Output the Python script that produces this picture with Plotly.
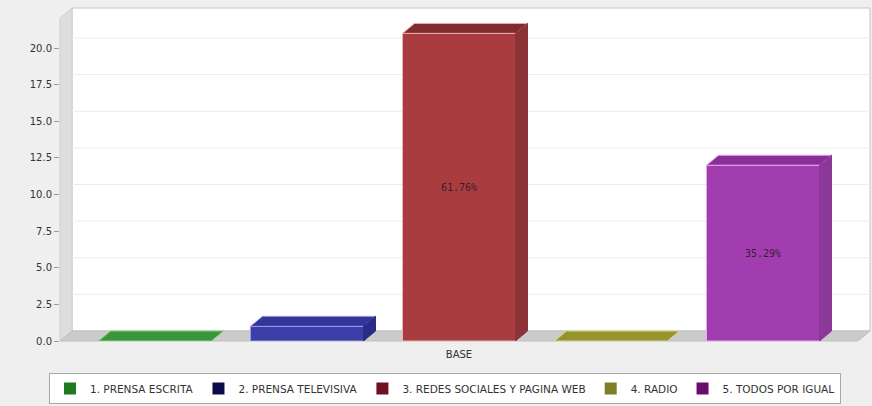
import plotly.graph_objects as go

# ---------------- data ----------------
categories = ["BASE"]
series_names = ["1. PRENSA ESCRITA", "2. PRENSA TELEVISIVA", "3. REDES SOCIALES Y PAGINA WEB",
                "4. RADIO", "5. TODOS POR IGUAL"]
series_values = [0, 1, 21, 0, 12]
bar_labels = ["", "", "61.76%", "", "35.29%"]
y_ticks = [0.0, 2.5, 5.0, 7.5, 10.0, 12.5, 15.0, 17.5, 20.0]

# ---------------- styles ----------------
front_colors = ["#3c9a3c", "#3d3eaa", "#a83c3e", "#9b9b30", "#a23db0"]
top_colors = ["#3a963a", "#34349a", "#7f2c30", "#95952c", "#8a2f98"]
side_colors = ["#2f7e2f", "#2c2c88", "#8c3337", "#80801f", "#8c3899"]
edge_colors = ["#8fd08f", "#9a9ae8", "#f0b0b0", "#d8d890", "#e6a6f0"]
legend_colors = ["#1e7a1e", "#0c0c4a", "#6e1020", "#7e7e26", "#6a0a6a"]

W, H = 872, 406
L_M, R_M, T_M, B_M = 60, 14, 18, 65
PW, PH = W - L_M - R_M, H - T_M - B_M
Y_MAX = 22.05
DX_PX, DY_PX = 12, 10
dx_paper, dy_paper = DX_PX / PW, DY_PX / PH
dx_data = DX_PX / PW * 1.0
dy_data = DY_PX / PH * Y_MAX
pitch = 152 / PW
bar_w = 113 / PW

fig = go.Figure()

shapes = []
# back wall
shapes.append(dict(type="rect", xref="paper", yref="paper", x0=dx_paper, x1=1 + dx_paper,
                   y0=dy_paper, y1=1 + dy_paper, fillcolor="white",
                   line=dict(color="#c4c4c4", width=1), layer="below"))
# left wall
shapes.append(dict(type="path", xref="paper", yref="paper",
                   path=f"M 0,0 L {dx_paper},{dy_paper} L {dx_paper},{1+dy_paper} L 0,1 Z",
                   fillcolor="#dedede", line=dict(color="#cfcfcf", width=1), layer="below"))
# floor
shapes.append(dict(type="path", xref="paper", yref="paper",
                   path=f"M 0,0 L 1,0 L {1+dx_paper},{dy_paper} L {dx_paper},{dy_paper} Z",
                   fillcolor="#cbcbcb", line=dict(color="#c0c0c0", width=1), layer="below"))
# gridlines on the back wall
for v in y_ticks[1:]:
    shapes.append(dict(type="line", xref="paper", yref="y", x0=dx_paper, x1=1 + dx_paper,
                       y0=v + dy_data, y1=v + dy_data,
                       line=dict(color="#ececec", width=1), layer="below"))

for i, (name, v) in enumerate(zip(series_names, series_values)):
    off = (i - 2) * pitch - bar_w / 2
    fig.add_trace(go.Bar(
        x=[0], y=[v], width=bar_w, offset=off, name=name, showlegend=False,
        marker=dict(color=front_colors[i], line=dict(color=edge_colors[i], width=1)),
        text=[bar_labels[i]], textposition="inside", insidetextanchor="middle",
        textfont=dict(family="DejaVu Sans Mono", size=10, color="#3a1e2e"),
        hoverinfo="skip", cliponaxis=False,
    ))
    Lx, Rx = off, off + bar_w
    # top face
    shapes.append(dict(type="path", xref="x", yref="y",
                       path=f"M {Lx},{v} L {Rx},{v} L {Rx+dx_data},{v+dy_data} L {Lx+dx_data},{v+dy_data} Z",
                       fillcolor=top_colors[i], line=dict(color=edge_colors[i], width=1), layer="above"))
    # side face
    if v > 0:
        shapes.append(dict(type="path", xref="x", yref="y",
                           path=f"M {Rx},0 L {Rx+dx_data},{dy_data} L {Rx+dx_data},{v+dy_data} L {Rx},{v} Z",
                           fillcolor=side_colors[i], line=dict(color=side_colors[i], width=1), layer="above"))
    # legend entry
    fig.add_trace(go.Scatter(x=[None], y=[None], mode="markers", name=name,
                             marker=dict(symbol="square", size=12, color=legend_colors[i]),
                             showlegend=True))

fig.update_layout(
    width=W, height=H,
    margin=dict(l=L_M, r=R_M, t=T_M, b=B_M),
    paper_bgcolor="#efefef", plot_bgcolor="rgba(0,0,0,0)",
    font=dict(family="DejaVu Sans", size=10, color="#333333"),
    shapes=shapes,
    barmode="overlay",
    xaxis=dict(range=[-0.5, 0.5], tickvals=[0], ticktext=categories, showgrid=False,
               zeroline=False, showline=False, ticks="", ticklabelstandoff=6,
               tickfont=dict(size=10, color="#333333")),
    yaxis=dict(range=[0, Y_MAX], tickvals=y_ticks, ticktext=[f"{t:.1f}" for t in y_ticks],
               showgrid=False, zeroline=False, showline=False, ticks="outside", ticklen=5,
               tickcolor="#9a9a9a", tickfont=dict(size=10, color="#333333")),
    legend=dict(orientation="h", xref="container", yref="container", x=445 / W, xanchor="center",
                y=1 - 373 / H, yanchor="top", bgcolor="white", bordercolor="#a8a8a8", borderwidth=1,
                font=dict(family="DejaVu Sans", size=10.5, color="#333333"), itemwidth=30,
                tracegroupgap=0),
    showlegend=True,
)

fig.write_html("out.html")
